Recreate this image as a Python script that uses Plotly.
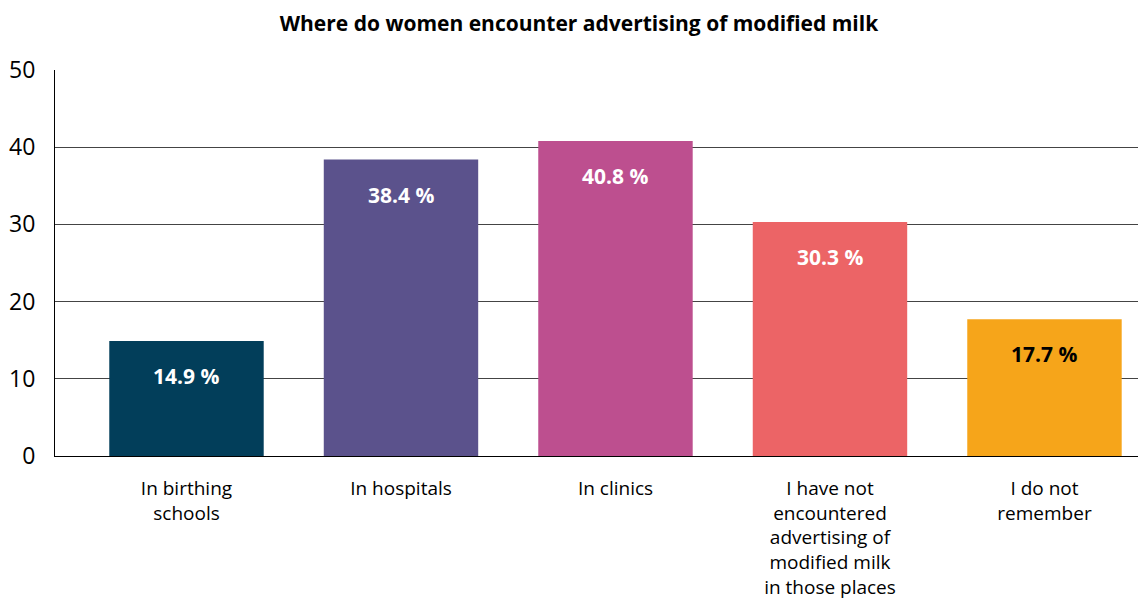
import plotly.graph_objects as go

categories = [
    "In birthing<br>schools",
    "In hospitals",
    "In clinics",
    "I have not<br>encountered<br>advertising of<br>modified milk<br>in those places",
    "I do not<br>remember",
]
values = [14.9, 38.4, 40.8, 30.3, 17.7]
colors = ["#023E5A", "#5B528C", "#BD4F8F", "#EC6466", "#F6A51A"]
label_colors = ["white", "white", "white", "white", "black"]
y_ticks = [0, 10, 20, 30, 40, 50]

FONT = "Open Sans"
x_pos = list(range(len(categories)))

fig = go.Figure()
fig.add_trace(go.Bar(
    x=x_pos,
    y=values,
    marker=dict(color=colors, line=dict(width=0)),
    width=0.72,
    hoverinfo="skip",
))

for i, v in enumerate(values):
    fig.add_annotation(
        x=x_pos[i], y=v, xref="x", yref="y",
        text=f"<b>{v:.1f} %</b>",
        showarrow=False,
        yanchor="top", yshift=-19,
        font=dict(family=FONT, size=21, color=label_colors[i]),
    )

fig.update_layout(
    width=1138, height=603,
    margin=dict(l=55, r=0, t=70, b=147),
    paper_bgcolor="white", plot_bgcolor="white",
    showlegend=False,
    title=dict(
        text="<b>Where do women encounter advertising of modified milk</b>",
        x=579 / 1138, xanchor="center", xref="container",
        y=1 - 24 / 603, yanchor="middle", yref="container",
        font=dict(family=FONT, size=21, color="black"),
    ),
    font=dict(family=FONT, color="black"),
)

fig.update_xaxes(
    range=[-0.613, 4.436],
    tickmode="array", tickvals=x_pos, ticktext=categories,
    tickfont=dict(family=FONT, size=19, color="black"),
    showgrid=False, zeroline=False,
    showline=True, linecolor="black", linewidth=1,
    ticks="outside", ticklen=15, tickcolor="rgba(0,0,0,0)",
    automargin=False,
    fixedrange=True,
)
fig.update_yaxes(
    range=[0, 50],
    tickmode="array", tickvals=y_ticks,
    tickfont=dict(family=FONT, size=23, color="black"),
    showgrid=True, gridcolor="#444444", gridwidth=1,
    zeroline=False,
    showline=True, linecolor="black", linewidth=1,
    ticks="outside", ticklen=14, tickcolor="rgba(0,0,0,0)",
    automargin=False,
    fixedrange=True,
)

fig.write_html("out.html")
